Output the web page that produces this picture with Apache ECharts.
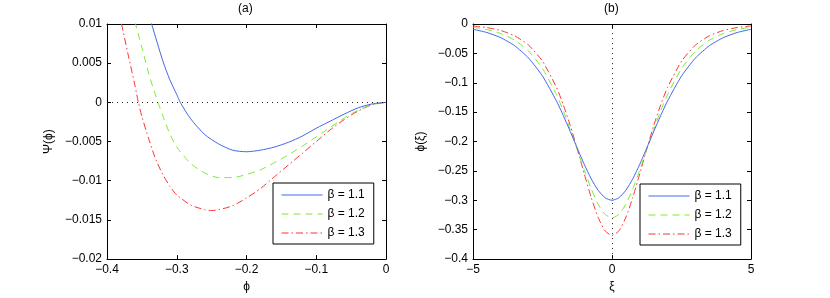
<!DOCTYPE html>
<html>
<head>
<meta charset="utf-8">
<script src="https://cdn.jsdelivr.net/npm/echarts@6/dist/echarts.min.js"></script>
<style>html,body{margin:0;padding:0;background:#fff}#c{width:830px;height:298px}</style>
</head>
<body>
<div id="c"></div>
<script>
// ---- Panel (a): Sagdeev potential Psi(phi) ----
const seriesNames = ['β = 1.1', 'β = 1.2', 'β = 1.3'];
const phiA11 = [-0.34, -0.336, -0.32, -0.31, -0.30, -0.295, -0.28, -0.26, -0.24, -0.22, -0.20, -0.18, -0.16, -0.14, -0.12, -0.10, -0.08, -0.06, -0.04, -0.02, 0];
const psiA11 = [0.0112, 0.0100, 0.0053, 0.0029, 0.0010, 0, -0.0021, -0.0041, -0.0053, -0.0061, -0.0063, -0.0061, -0.0057, -0.0051, -0.0043, -0.0033, -0.0024, -0.0015, -0.0007, -0.0002, 0];
const phiA12 = [-0.365, -0.36, -0.35, -0.34, -0.33, -0.327, -0.32, -0.31, -0.30, -0.28, -0.26, -0.24, -0.22, -0.20, -0.18, -0.16, -0.14, -0.12, -0.10, -0.08, -0.06, -0.04, -0.02, 0];
const psiA12 = [0.0118, 0.0103, 0.0070, 0.0036, 0.0008, 0, -0.0017, -0.0040, -0.0057, -0.0078, -0.0090, -0.0096, -0.0096, -0.0092, -0.0086, -0.0077, -0.0067, -0.0056, -0.0044, -0.0032, -0.0020, -0.0010, -0.0003, 0];
const phiA13 = [-0.385, -0.38, -0.37, -0.36, -0.355, -0.35, -0.34, -0.33, -0.32, -0.31, -0.30, -0.28, -0.26, -0.25, -0.24, -0.22, -0.20, -0.18, -0.16, -0.14, -0.12, -0.10, -0.08, -0.06, -0.04, -0.02, 0];
const psiA13 = [0.0118, 0.0103, 0.0062, 0.0022, 0, -0.0018, -0.0047, -0.0073, -0.0092, -0.0107, -0.0118, -0.0131, -0.0137, -0.0138, -0.0137, -0.0132, -0.0122, -0.0110, -0.0095, -0.0080, -0.0065, -0.0050, -0.0035, -0.0022, -0.0011, -0.0003, 0];
const ticksAx = [-0.4, -0.3, -0.2, -0.1, 0];
const ticksAxLabels = ['\u22120.4', '\u22120.3', '\u22120.2', '\u22120.1', '0'];
const ticksAy = [-0.02, -0.015, -0.01, -0.005, 0, 0.005, 0.01];
const ticksAyLabels = ['\u22120.02', '\u22120.015', '\u22120.01', '\u22120.005', '0', '0.005', '0.01'];

// ---- Panel (b): soliton profile phi(xi) ----
const xi = [-5, -4.5, -4, -3.5, -3, -2.5, -2, -1.75, -1.5, -1.25, -1, -0.75, -0.5, -0.25, 0, 0.25, 0.5, 0.75, 1, 1.25, 1.5, 1.75, 2, 2.5, 3, 3.5, 4, 4.5, 5];
const phiB11 = [-0.0090, -0.0145, -0.0233, -0.0370, -0.0580, -0.0886, -0.1307, -0.1560, -0.1830, -0.2112, -0.2386, -0.2632, -0.2828, -0.2956, -0.3000, -0.2956, -0.2828, -0.2632, -0.2386, -0.2112, -0.1830, -0.1560, -0.1307, -0.0886, -0.0580, -0.0370, -0.0233, -0.0145, -0.0090];
const phiB12 = [-0.0055, -0.0095, -0.0163, -0.0276, -0.0462, -0.0757, -0.1199, -0.1480, -0.1797, -0.2137, -0.2482, -0.2802, -0.3065, -0.3239, -0.3300, -0.3239, -0.3065, -0.2802, -0.2482, -0.2137, -0.1797, -0.1480, -0.1199, -0.0757, -0.0462, -0.0276, -0.0163, -0.0095, -0.0055];
const phiB13 = [-0.0033, -0.0061, -0.0111, -0.0201, -0.0360, -0.0633, -0.1076, -0.1377, -0.1730, -0.2127, -0.2545, -0.2948, -0.3289, -0.3519, -0.3600, -0.3519, -0.3289, -0.2948, -0.2545, -0.2127, -0.1730, -0.1377, -0.1076, -0.0633, -0.0360, -0.0201, -0.0111, -0.0061, -0.0033];
const ticksBx = [-5, 0, 5];
const ticksBxLabels = ['\u22125', '0', '5'];
const ticksBy = [-0.4, -0.35, -0.3, -0.25, -0.2, -0.15, -0.1, -0.05, 0];
const ticksByLabels = ['\u22120.4', '\u22120.35', '\u22120.3', '\u22120.25', '\u22120.2', '\u22120.15', '\u22120.1', '\u22120.05', '0'];

const colors = ['#4466ee', '#77ee33', '#ff3333'];
const dashes = ['solid', [7, 5], [7, 3, 1.5, 3]];
const FONT = 'Liberation Sans, Arial, Helvetica, sans-serif';

function zip(a, b) { return a.map((v, i) => [v, b[i]]); }
function labelFrom(ticks, labels) {
  return function (v) {
    let best = 0;
    for (let i = 1; i < ticks.length; i++) if (Math.abs(ticks[i] - v) < Math.abs(ticks[best] - v)) best = i;
    return labels[best];
  };
}

function axis(opts, ticks, labels, showLabel, pos, name, nameGap, rotateName) {
  return Object.assign({
    type: 'value',
    position: pos,
    min: ticks[0], max: ticks[ticks.length - 1],
    interval: ticks[1] - ticks[0],
    axisLine: { show: true, onZero: false, lineStyle: { color: '#000', width: 1 } },
    axisTick: { show: true, inside: true, length: 4, lineStyle: { color: '#000' } },
    splitLine: { show: false },
    axisLabel: { show: showLabel, color: '#000', fontFamily: FONT, fontSize: 12, margin: 5, formatter: labelFrom(ticks, labels) },
    name: name || '',
    nameLocation: 'middle',
    nameGap: nameGap || 0,
    nameRotate: rotateName ? 90 : 0,
    nameTextStyle: { color: '#000', fontFamily: FONT, fontSize: 12 }
  }, opts);
}

const dotted = { color: '#222', type: [1, 4], width: 1 };

const series = [];
const aData = [zip(phiA11, psiA11), zip(phiA12, psiA12), zip(phiA13, psiA13)];
const bData = [zip(xi, phiB11), zip(xi, phiB12), zip(xi, phiB13)];
for (let i = 0; i < 3; i++) {
  series.push({
    type: 'line', name: seriesNames[i], xAxisIndex: 0, yAxisIndex: 0,
    data: aData[i], showSymbol: false, symbol: 'none', smooth: 0.25, clip: true,
    lineStyle: { color: colors[i], width: 1, type: dashes[i] }, itemStyle: { color: colors[i] },
    markLine: i === 0 ? { silent: true, symbol: 'none', label: { show: false }, lineStyle: dotted, animation: false, data: [{ yAxis: 0 }] } : undefined,
    z: 3 - i
  });
}
for (let i = 0; i < 3; i++) {
  series.push({
    type: 'line', name: seriesNames[i], xAxisIndex: 2, yAxisIndex: 2,
    data: bData[i], showSymbol: false, symbol: 'none', smooth: 0.2, clip: true,
    lineStyle: { color: colors[i], width: 1, type: dashes[i] }, itemStyle: { color: colors[i] },
    markLine: i === 0 ? { silent: true, symbol: 'none', label: { show: false }, lineStyle: dotted, animation: false, data: [{ xAxis: 0 }] } : undefined,
    z: 3 - i
  });
}

function legend(left, top) {
  return {
    orient: 'vertical', left: left, top: top,
    data: seriesNames,
    itemWidth: 41, itemHeight: 14, itemGap: 7,
    padding: [6, 9, 5, 8],
    backgroundColor: '#fff', borderColor: '#000', borderWidth: 1, borderRadius: 0,
    itemStyle: { opacity: 0, borderWidth: 0 },
    lineStyle: { width: 1 },
    textStyle: { color: '#000', fontFamily: FONT, fontSize: 12 },
    selectedMode: false
  };
}

const option = {
  animation: false,
  backgroundColor: '#fff',
  grid: [
    { left: 107, right: 444, top: 24, bottom: 38, containLabel: false },
    { left: 473, right: 79, top: 24, bottom: 38, containLabel: false }
  ],
  xAxis: [
    axis({ gridIndex: 0 }, ticksAx, ticksAxLabels, true, 'bottom', '\u03D5', 20, false),
    axis({ gridIndex: 0 }, ticksAx, ticksAxLabels, false, 'top'),
    axis({ gridIndex: 1 }, ticksBx, ticksBxLabels, true, 'bottom', 'ξ', 20, false),
    axis({ gridIndex: 1 }, ticksBx, ticksBxLabels, false, 'top')
  ],
  yAxis: [
    axis({ gridIndex: 0 }, ticksAy, ticksAyLabels, true, 'left', 'Ψ(\u03D5)', 52, true),
    axis({ gridIndex: 0 }, ticksAy, ticksAyLabels, false, 'right'),
    axis({ gridIndex: 1 }, ticksBy, ticksByLabels, true, 'left', '\u03D5(ξ)', 46, true),
    axis({ gridIndex: 1 }, ticksBy, ticksByLabels, false, 'right')
  ],
  legend: [legend(273, 183), legend(640, 184)],
  graphic: [
    { type: 'text', left: 238, top: 3, style: { text: '(a)', fill: '#000', font: '12px ' + FONT } },
    { type: 'text', left: 604, top: 3, style: { text: '(b)', fill: '#000', font: '12px ' + FONT } }
  ],
  series: series
};

const chart = echarts.init(document.getElementById('c'), null, { renderer: 'canvas' });
chart.setOption(option);
</script>
</body>
</html>
